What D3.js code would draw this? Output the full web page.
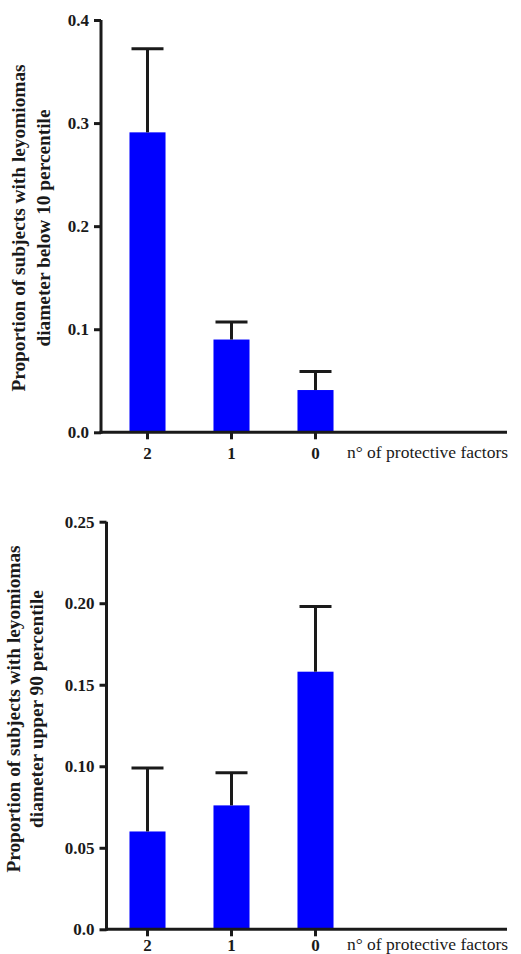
<!DOCTYPE html>
<html>
<head>
<meta charset="utf-8">
<script src="https://cdnjs.cloudflare.com/ajax/libs/d3/7.8.5/d3.min.js"></script>
<style>
  body { margin: 0; background: #fff; }
  .serif { font-family: "Liberation Serif", "Times New Roman", Times, serif; }
</style>
</head>
<body>
<div id="chart"></div>
<script>
// categories (number of protective factors)
let categories = ['2', '1', '0'];

// top panel: proportion below 10 percentile
let belowMeans = [0.291, 0.090, 0.041];
let belowErrors = [0.081, 0.017, 0.018];
let belowTicks = [0, 0.1, 0.2, 0.3, 0.4];

// bottom panel: proportion upper 90 percentile
let upperMeans = [0.060, 0.076, 0.158];
let upperErrors = [0.039, 0.020, 0.040];
let upperTicks = [0, 0.05, 0.10, 0.15, 0.20, 0.25];

let xTitle = 'n\u00b0 of protective factors';
let yTitleLine1 = 'Proportion of subjects with leyomiomas';

let svgWidth = 521;
let svgHeight = 954;
let ink = '#1a1a1a';

let svg = d3.select('#chart')
  .append('svg')
  .attr('width', svgWidth)
  .attr('height', svgHeight)
  .style('display', 'block');

function drawPanel(opts) {
  let g = svg.append('g');

  // scales
  let x = d3.scaleBand()
    .domain(categories)
    .range([105.5, 357.5])
    .paddingInner(0.571)
    .paddingOuter(0.2855);

  let y = d3.scaleLinear()
    .domain([0, opts.ticks[opts.ticks.length - 1]])
    .range([opts.bottom, opts.top]);

  // bars
  g.selectAll('.bar')
    .data(opts.means)
    .enter()
    .append('rect')
    .attr('class', 'bar')
    .attr('x', (d, i) => x(categories[i]))
    .attr('width', x.bandwidth())
    .attr('y', d => y(d))
    .attr('height', d => y(0) - y(d))
    .attr('fill', '#0000ff');

  // error bars (upper only)
  let errs = g.selectAll('.err')
    .data(opts.means)
    .enter()
    .append('g')
    .attr('class', 'err');

  errs.append('line')
    .attr('x1', (d, i) => x(categories[i]) + x.bandwidth() / 2)
    .attr('x2', (d, i) => x(categories[i]) + x.bandwidth() / 2)
    .attr('y1', d => y(d))
    .attr('y2', (d, i) => y(d + opts.errors[i]))
    .attr('stroke', ink)
    .attr('stroke-width', 3);

  errs.append('line')
    .attr('x1', (d, i) => x(categories[i]) + x.bandwidth() / 2 - 16)
    .attr('x2', (d, i) => x(categories[i]) + x.bandwidth() / 2 + 16)
    .attr('y1', (d, i) => y(d + opts.errors[i]))
    .attr('y2', (d, i) => y(d + opts.errors[i]))
    .attr('stroke', ink)
    .attr('stroke-width', 3);

  // y axis
  let leftAxis = d3.axisLeft(y)
    .tickValues(opts.ticks)
    .tickFormat(opts.format)
    .tickSizeInner(7)
    .tickSizeOuter(0)
    .tickPadding(5);

  let yAxis = g.append('g')
    .attr('transform', `translate(${opts.left}, 0)`)
    .call(leftAxis);

  // x axis
  let bottomAxis = d3.axisBottom(x)
    .tickSizeInner(7)
    .tickSizeOuter(0)
    .tickPadding(opts.xPad);

  let xAxis = g.append('g')
    .attr('transform', `translate(0, ${opts.bottom})`)
    .call(bottomAxis);

  xAxis.select('.domain').remove();
  xAxis.append('line')
    .attr('x1', opts.left - 1.5)
    .attr('x2', 507)
    .attr('stroke', ink)
    .attr('stroke-width', 3);

  [xAxis, yAxis].forEach(function (ax) {
    ax.attr('font-family', null).classed('serif', true);
    ax.selectAll('path, line').attr('stroke', ink).attr('stroke-width', 3);
    ax.selectAll('text')
      .classed('serif', true)
      .attr('font-size', '17px')
      .attr('font-weight', 'bold')
      .attr('fill', ink);
  });
  yAxis.select('.domain').attr('d', `M0,${opts.bottom + 1.5}V${opts.top}`);

  // x title
  g.append('text')
    .classed('serif', true)
    .attr('x', 347)
    .attr('y', opts.bottom + opts.titleGap)
    .attr('font-size', '17.5px')
    .attr('fill', ink)
    .text(xTitle);

  // y title, two lines (stretched a little along its length like the original)
  let yTitle = g.append('text')
    .classed('serif', true)
    .attr('transform', `translate(${opts.titleX}, ${opts.titleY}) rotate(-90) scale(1.075, 1)`)
    .attr('text-anchor', 'middle')
    .attr('font-size', '18px')
    .attr('font-weight', 'bold')
    .attr('fill', ink);

  yTitle.append('tspan')
    .attr('x', 0)
    .attr('y', 0)
    .text(yTitleLine1);

  yTitle.append('tspan')
    .attr('x', 0)
    .attr('y', opts.lineGap)
    .text(opts.line2);
}

drawPanel({
  means: belowMeans,
  errors: belowErrors,
  ticks: belowTicks,
  format: d3.format('.1f'),
  left: 101,
  top: 20,
  bottom: 432.3,
  xPad: 8,
  titleGap: 26,
  titleX: 25,
  titleY: 228,
  lineGap: 25,
  line2: 'diameter below 10 percentile'
});

drawPanel({
  means: upperMeans,
  errors: upperErrors,
  ticks: upperTicks,
  format: d => d === 0 ? '0.0' : d3.format('.2f')(d),
  left: 106.5,
  top: 521.7,
  bottom: 929.3,
  xPad: 3,
  titleGap: 21,
  titleX: 20,
  titleY: 709,
  lineGap: 23,
  line2: 'diameter upper 90 percentile'
});
</script>
</body>
</html>
